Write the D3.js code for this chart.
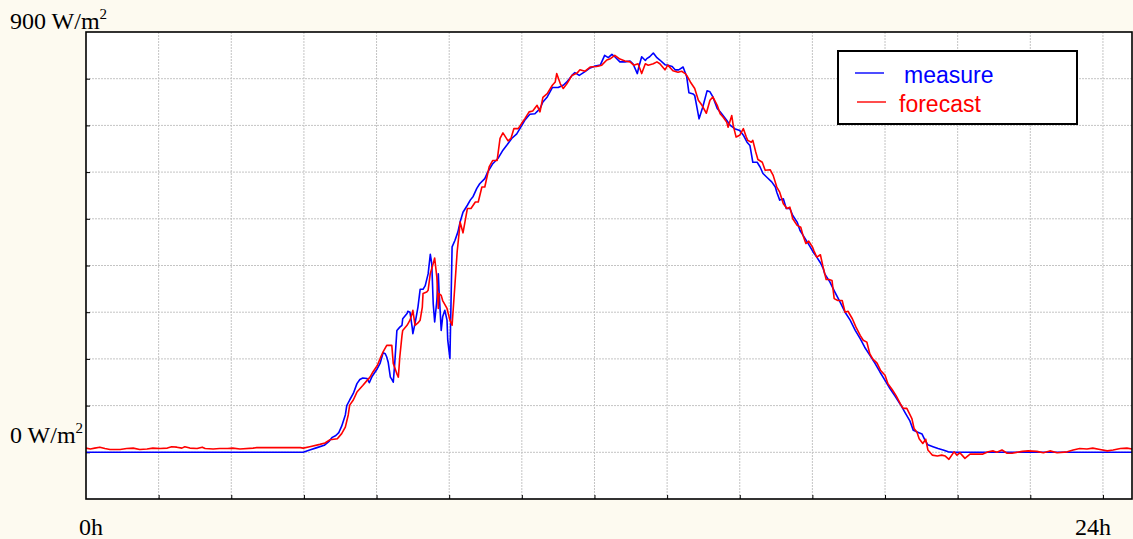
<!DOCTYPE html>
<html>
<head>
<meta charset="utf-8">
<script src="https://cdn.jsdelivr.net/npm/d3@7"></script>
<style>
  body { margin: 0; background: #fdfaf0; }
  svg { display: block; }
  .lbl { font-family: "Liberation Serif", "Times New Roman", serif; font-size: 24px; fill: #000; }
  .leg { font-family: "Liberation Sans", Arial, sans-serif; font-size: 23px; }
</style>
</head>
<body>
<svg id="chart"></svg>
<script>
// time in minutes since midnight, irradiance in W/m2
const measureTime = [
  0, 299, 308, 318, 328, 335, 339, 344, 348, 352,
  357, 359, 363, 368, 373, 377, 381, 387, 390, 394,
  401, 405, 409, 412, 414, 416, 419, 421, 423, 425,
  428, 432, 435, 436, 442, 443, 446, 449, 450, 453,
  457, 460, 464, 467, 471, 474, 476, 478, 480, 483,
  485, 486, 489, 491, 494, 497, 498, 501, 504, 508,
  512, 515, 519, 525, 529, 533, 538, 542, 549, 553,
  560, 567, 574, 580, 586, 593, 600, 604, 611, 618,
  625, 629, 635, 642, 650, 657, 662, 669, 673, 679,
  687, 694, 701, 708, 714, 719, 724, 728, 735, 742,
  749, 753, 759, 761, 765, 770, 772, 776, 781, 786,
  790, 797, 801, 807, 811, 816, 822, 827, 830, 836,
  838, 841, 844, 849, 855, 859, 863, 869, 873, 877,
  882, 887, 893, 900, 905, 910, 914, 918, 924, 928,
  932, 938, 944, 949, 951, 955, 960, 964, 969, 973,
  979, 983, 987, 993, 997, 1001, 1006, 1011, 1015, 1017,
  1024, 1031, 1038, 1045, 1052, 1059, 1066, 1072, 1079, 1086,
  1093, 1100, 1107, 1114, 1121, 1128, 1134, 1139, 1145, 1151,
  1155, 1159, 1166, 1173, 1180, 1187, 1194, 1440
];
const measureValue = [
  0, 0, 5, 10, 15, 24, 32, 36, 42, 56,
  80, 100, 112, 126, 147, 156, 159, 158, 149, 163,
  179, 191, 213, 211, 204, 193, 161, 156, 150, 190,
  261, 268, 272, 286, 297, 302, 300, 268, 254, 276,
  311, 349, 349, 357, 382, 424, 404, 318, 279, 325,
  382, 347, 261, 290, 304, 283, 240, 201, 440, 454,
  472, 493, 514, 529, 540, 548, 565, 575, 586, 600,
  618, 629, 647, 659, 672, 682, 700, 711, 724, 725,
  736, 750, 761, 781, 781, 786, 793, 807, 813, 807,
  815, 823, 827, 829, 850, 845, 852, 847, 836, 836,
  838, 832, 811, 825, 847, 839, 843, 847, 855, 845,
  840, 830, 829, 826, 819, 819, 825, 804, 770, 767,
  764, 739, 714, 739, 774, 772, 761, 736, 729, 721,
  711, 700, 693, 689, 679, 664, 657, 621, 621, 611,
  597, 588, 579, 568, 557, 540, 543, 522, 522, 507,
  493, 475, 465, 450, 440, 429, 418, 406, 393, 382,
  365, 343, 322, 300, 283, 261, 243, 225, 208, 191,
  172, 154, 136, 120, 103, 84, 68, 47, 43, 39,
  26, 16, 12, 8, 5, 1, 0, 0
];

const forecastTime = [
  0, 6, 12, 19, 26, 33, 47, 56, 65, 74,
  84, 92, 102, 112, 118, 125, 132, 136, 143, 153,
  160, 164, 175, 184, 195, 202, 212, 230, 235, 295,
  299, 308, 322, 329, 336, 346, 352, 357, 361, 363,
  368, 373, 377, 381, 387, 391, 395, 401, 405, 409,
  414, 421, 423, 428, 430, 432, 435, 436, 442, 446,
  449, 450, 453, 457, 460, 463, 464, 469, 471, 474,
  478, 480, 483, 485, 486, 489, 491, 497, 501, 504,
  508, 511, 514, 515, 519, 525, 530, 536, 540, 545,
  549, 555, 560, 566, 570, 574, 581, 585, 589, 595,
  600, 604, 610, 615, 621, 625, 629, 635, 642, 646,
  648, 653, 657, 662, 669, 676, 680, 687, 694, 703,
  710, 717, 721, 728, 735, 742, 749, 754, 760, 765,
  770, 774, 781, 786, 790, 797, 801, 808, 815, 820,
  825, 827, 832, 838, 843, 848, 854, 859, 863, 869,
  873, 877, 882, 884, 889, 891, 895, 900, 905, 909,
  911, 916, 918, 922, 925, 931, 935, 942, 946, 951,
  955, 960, 965, 969, 973, 979, 984, 987, 991, 995,
  1000, 1002, 1006, 1011, 1015, 1019, 1023, 1027, 1030, 1035,
  1041, 1045, 1049, 1055, 1060, 1066, 1070, 1075, 1079, 1083,
  1089, 1094, 1100, 1104, 1110, 1115, 1121, 1125, 1130, 1137,
  1140, 1144, 1147, 1152, 1156, 1159, 1165, 1172, 1178, 1183,
  1188, 1195, 1199, 1203, 1206, 1210, 1217, 1234, 1242, 1249,
  1254, 1261, 1268, 1275, 1289, 1297, 1309, 1318, 1327, 1337,
  1351, 1359, 1368, 1378, 1386, 1396, 1406, 1414, 1424, 1433,
  1440
];
const forecastValue = [
  9, 7, 9, 11, 8, 6, 6, 8, 9, 6,
  7, 9, 8, 9, 12, 11, 9, 12, 9, 8,
  11, 8, 7, 8, 8, 9, 7, 9, 10, 10,
  9, 12, 17, 20, 27, 29, 40, 54, 80, 101,
  112, 129, 136, 143, 154, 161, 172, 186, 201, 215,
  229, 229, 190, 168, 161, 204, 250, 261, 272, 283,
  297, 304, 272, 277, 283, 311, 340, 343, 347, 383,
  404, 416, 375, 308, 340, 336, 325, 308, 283, 272,
  361, 430, 475, 493, 470, 522, 522, 536, 536, 568,
  568, 611, 625, 625, 672, 684, 667, 672, 693, 693,
  705, 714, 729, 731, 743, 729, 760, 768, 786, 793,
  811, 789, 779, 789, 807, 812, 819, 816, 825, 826,
  829, 840, 842, 850, 842, 838, 836, 829, 832, 811,
  832, 829, 832, 836, 832, 819, 829, 817, 814, 816,
  811, 807, 793, 779, 754, 743, 726, 754, 761, 743,
  725, 718, 707, 696, 721, 700, 675, 679, 693, 675,
  668, 664, 668, 643, 627, 621, 604, 605, 593, 568,
  557, 532, 522, 525, 500, 486, 482, 465, 447, 452,
  440, 432, 418, 423, 395, 370, 370, 368, 329, 325,
  325, 300, 302, 286, 268, 250, 240, 236, 211, 200,
  191, 175, 165, 147, 134, 122, 104, 94, 94, 72,
  51, 43, 29, 19, 28, 5, -6, -8, -6, -8,
  -15, 1, -6, -1, -6, -13, -4, -4, 1, 3,
  0, 5, -2, -2, 2, 3, 2, -1, 3, -1,
  1, 5, 8, 7, 9, 6, 3, 5, 8, 9,
  7
];

const gridTimes = [100, 200, 300, 400, 500, 600, 700, 800, 900, 1000, 1100, 1200, 1300, 1400];
const gridValues = [0, 100, 200, 300, 400, 500, 600, 700, 800];
const seriesNames = ["measure", "forecast"];
const seriesColors = ["#0000ff", "#ff0000"];

const W = 1133, H = 539;
const margin = { top: 32, right: 1, bottom: 40, left: 86 };
const width = W - margin.left - margin.right;
const height = H - margin.top - margin.bottom;

const root = d3.select("#chart").attr("width", W).attr("height", H);
root.append("rect").attr("width", W).attr("height", H).attr("fill", "#fdfaf0");

const svg = root.append("g")
    .attr("transform", `translate(${margin.left},${margin.top})`);

const x = d3.scaleLinear().domain([0, 1440]).range([0, width]);
const y = d3.scaleLinear().domain([-100, 900]).range([height, 0]);

svg.append("rect").attr("width", width).attr("height", height).attr("fill", "#fff");

// grid
svg.append("g").selectAll("line").data(gridTimes).enter().append("line")
    .attr("x1", d => x(d)).attr("x2", d => x(d))
    .attr("y1", 0).attr("y2", height)
    .attr("stroke", "#c4c4c4").attr("stroke-width", 1).attr("stroke-dasharray", "2,1");
svg.append("g").selectAll("line").data(gridValues).enter().append("line")
    .attr("x1", 0).attr("x2", width)
    .attr("y1", d => y(d)).attr("y2", d => y(d))
    .attr("stroke", "#c4c4c4").attr("stroke-width", 1).attr("stroke-dasharray", "2,1");

// inner ticks
svg.append("g")
    .attr("transform", `translate(0,${height})`)
    .call(d3.axisBottom(x).tickValues(gridTimes).tickSizeInner(-4).tickSizeOuter(0).tickFormat(""))
    .call(g => g.select(".domain").remove());
svg.append("g")
    .call(d3.axisLeft(y).tickValues(gridValues).tickSizeInner(-4).tickSizeOuter(0).tickFormat(""))
    .call(g => g.select(".domain").remove());

// series
const line = d3.line().x(d => x(d[0])).y(d => y(d[1]));
const measure = measureTime.map((t, i) => [t, measureValue[i]]);
const forecast = forecastTime.map((t, i) => [t, forecastValue[i]]);

svg.append("path").datum(measure)
    .attr("fill", "none").attr("stroke", seriesColors[0]).attr("stroke-width", 1.6)
    .attr("stroke-linejoin", "round").attr("d", line);
svg.append("path").datum(forecast)
    .attr("fill", "none").attr("stroke", seriesColors[1]).attr("stroke-width", 1.6)
    .attr("stroke-linejoin", "round").attr("d", line);

// frame
svg.append("rect").attr("width", width).attr("height", height)
    .attr("fill", "none").attr("stroke", "#000").attr("stroke-width", 1.6);

// labels
const topLabel = root.append("text").attr("class", "lbl")
    .attr("x", 10).attr("y", margin.top + y(900) - 3);
topLabel.append("tspan").text("900 W/m");
topLabel.append("tspan").attr("dy", -10).attr("font-size", 15).text("2");

const zeroLabel = root.append("text").attr("class", "lbl")
    .attr("x", 10).attr("y", margin.top + y(0) - 9);
zeroLabel.append("tspan").text("0 W/m");
zeroLabel.append("tspan").attr("dy", -10).attr("font-size", 15).text("2");

root.append("text").attr("class", "lbl")
    .attr("x", margin.left + x(0) - 7).attr("y", 535).text("0h");
root.append("text").attr("class", "lbl").attr("text-anchor", "end")
    .attr("x", margin.left + x(1440) - 21).attr("y", 535).text("24h");

// legend
const legend = root.append("g").attr("transform", "translate(838,51)");
legend.append("rect").attr("width", 239).attr("height", 73)
    .attr("fill", "#fff").attr("stroke", "#000").attr("stroke-width", 2);
seriesNames.forEach((name, i) => {
  const row = legend.append("g").attr("transform", `translate(0,${22 + i * 29})`);
  row.append("line").attr("x1", 17 + i * 2).attr("x2", 46 + i * 2)
      .attr("stroke", seriesColors[i]).attr("stroke-width", 1.4);
  row.append("text").attr("class", "leg").attr("fill", seriesColors[i])
      .attr("x", i === 0 ? 66 : 61).attr("y", 10).text(name);
});
</script>
</body>
</html>
